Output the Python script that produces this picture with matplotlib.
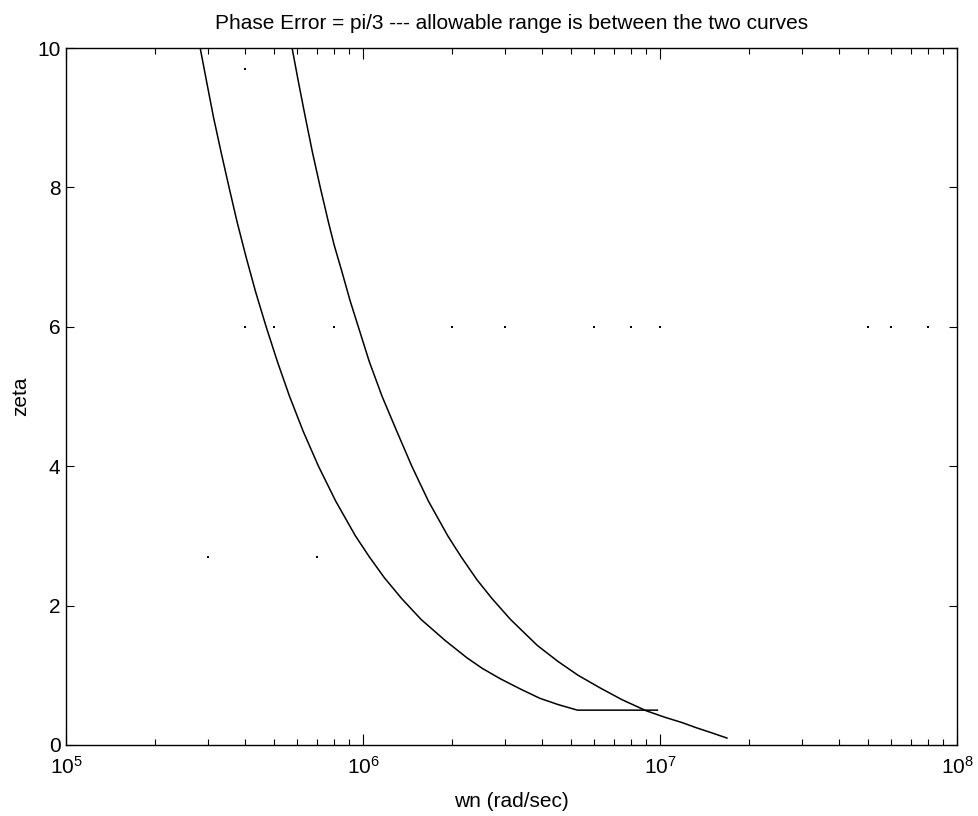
import matplotlib
matplotlib.use("Agg")
import matplotlib.pyplot as plt
from matplotlib.ticker import LogLocator, FixedLocator, NullFormatter

plt.rcParams['font.family'] = ['Liberation Sans', 'DejaVu Sans']
plt.rcParams['mathtext.default'] = 'regular'
plt.rcParams['mathtext.fontset'] = 'custom'
plt.rcParams['mathtext.rm'] = 'Liberation Sans'

# Upper boundary (right curve)
zeta_hi = [10, 9.5, 9, 8.5, 8, 7.5, 7.17, 6.8, 6.38, 5.5, 5, 4.5, 4, 3.5, 3, 2.7, 2.37,
           2.1, 1.8, 1.43, 1.2, 1.0, 0.82, 0.65, 0.49, 0.4, 0.32, 0.25, 0.18, 0.1]
wn_hi = [5.77e5, 6.07e5, 6.40e5, 6.76e5, 7.18e5, 7.65e5, 8.0e5, 8.48e5, 9.04e5, 1.05e6,
         1.16e6, 1.30e6, 1.46e6, 1.66e6, 1.93e6, 2.14e6, 2.42e6, 2.72e6, 3.14e6, 3.86e6,
         4.53e6, 5.3e6, 6.28e6, 7.45e6, 9.0e6, 1.035e7, 1.19e7, 1.32e7, 1.48e7, 1.68e7]

# Lower boundary (left curve)
zeta_lo = [10, 9.5, 9, 8.5, 8, 7.5, 7, 6.5, 6, 5.5, 5, 4.5, 4, 3.5, 3, 2.7, 2.4, 2.1,
           1.8, 1.5, 1.25, 1.1, 0.95, 0.8, 0.67, 0.58, 0.5, 0.5]
wn_lo = [2.83e5, 2.98e5, 3.14e5, 3.33e5, 3.54e5, 3.77e5, 4.04e5, 4.35e5, 4.72e5, 5.15e5,
         5.66e5, 6.29e5, 7.08e5, 8.09e5, 9.43e5, 1.05e6, 1.18e6, 1.35e6, 1.57e6, 1.89e6,
         2.24e6, 2.52e6, 2.9e6, 3.4e6, 3.94e6, 4.54e6, 5.27e6, 9.8e6]

# stray specks in the scanned figure
speck_x = [4e5, 5e5, 8e5, 2e6, 3e6, 6e6, 8e6, 1e7, 5e7, 6e7, 8e7, 3e5, 7e5, 4e5]
speck_y = [6, 6, 6, 6, 6, 6, 6, 6, 6, 6, 6, 2.7, 2.7, 9.7]

fig = plt.figure(figsize=(9.79, 8.16), dpi=100)
ax = fig.add_axes([66/979, 1-745/816, (957-66)/979, (745-48)/816])

ax.plot(wn_lo, zeta_lo, color='black', lw=1.1)
ax.plot(wn_hi, zeta_hi, color='black', lw=1.1)
ax.scatter(speck_x, speck_y, s=1.5, color='black', marker='s', linewidths=0)

ax.set_xscale('log')
ax.set_xlim(1e5, 1e8)
ax.set_ylim(0, 10)
ax.yaxis.set_major_locator(FixedLocator([0, 2, 4, 6, 8, 10]))
ax.xaxis.set_major_locator(LogLocator(base=10, numticks=10))
ax.xaxis.set_minor_locator(LogLocator(base=10, subs=range(2, 10), numticks=20))
ax.xaxis.set_minor_formatter(NullFormatter())

ax.tick_params(which='both', direction='in', top=True, right=True, labelsize=15, width=0.8, color='black')
ax.tick_params(axis='x', which='major', length=8, pad=8)
ax.tick_params(axis='x', which='minor', length=4)
ax.tick_params(axis='y', which='major', length=6, pad=4)
for s in ax.spines.values():
    s.set_linewidth(1.0)

ax.set_title('Phase Error = pi/3 --- allowable range is between the two curves', fontsize=15, pad=14)
ax.set_xlabel('wn (rad/sec)', fontsize=15, labelpad=10)
ax.set_ylabel('zeta', fontsize=15, labelpad=5)

fig.savefig('out.png', dpi=100)
